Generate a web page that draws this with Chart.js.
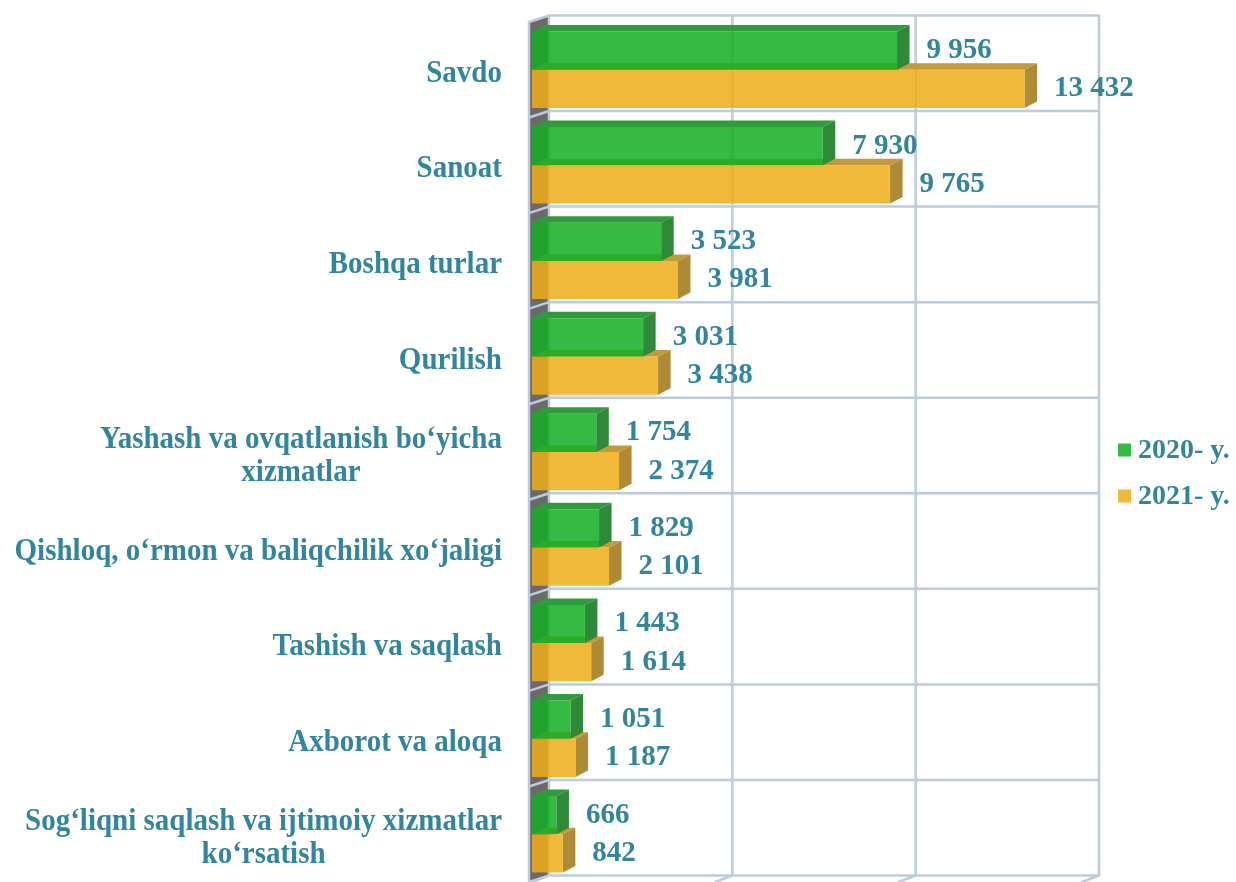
<!DOCTYPE html>
<html><head><meta charset="utf-8">
<script src="https://cdn.jsdelivr.net/npm/chart.js@4/dist/chart.umd.min.js"></script>
<style>html,body{margin:0;padding:0;background:#fff;overflow:hidden}canvas{display:block}</style>
</head><body>
<canvas id="c" width="1236" height="882"></canvas>
<script>
const categories = [
  "Savdo", "Sanoat", "Boshqa turlar", "Qurilish",
  ["Yashash va ovqatlanish bo‘yicha", "xizmatlar"],
  "Qishloq, o‘rmon va baliqchilik xo‘jaligi",
  "Tashish va saqlash", "Axborot va aloqa",
  ["Sog‘liqni saqlash va ijtimoiy xizmatlar", "ko‘rsatish"]
];
const values2020 = [9956, 7930, 3523, 3031, 1754, 1829, 1443, 1051, 666];
const values2021 = [13432, 9765, 3981, 3438, 2374, 2101, 1614, 1187, 842];
const seriesNames = ["2020- y.", "2021- y."];
const xTicks = [0, 5000, 10000, 15000];

const TEAL = '#31859C';
const FRONT = ['rgba(18,175,34,0.85)', 'rgba(238,173,24,0.85)'];
const TOPC = ['#2F9B3C', '#C39A3A'];
const SIDEC = ['#2E8A39', '#AF8A36'];
const LEGC = ['#35BA45', '#F1B93B'];
const WDX = 17, WDY = -6.5, BDX = 12.5, BDY = -6.5;
const FONT = '"Liberation Serif", "Times New Roman", serif';

function fmt(v) { return String(v).replace(/\B(?=(\d{3})+(?!\d))/g, ' '); }

function poly(ctx, pts, fill) {
  ctx.beginPath();
  ctx.moveTo(pts[0][0], pts[0][1]);
  for (let i = 1; i < pts.length; i++) ctx.lineTo(pts[i][0], pts[i][1]);
  ctx.closePath();
  ctx.fillStyle = fill;
  ctx.fill();
}

const threeD = {
  id: 'threeD',
  beforeDatasetsDraw(chart) {
    const ctx = chart.ctx, a = chart.chartArea, xs = chart.scales.x, ys = chart.scales.y;
    const n = categories.length;
    const x0 = xs.getPixelForValue(xTicks[0]);
    const fl = x0 - 3, bl = x0 + WDX, br = xs.getPixelForValue(xTicks[xTicks.length - 1]) + WDX;
    ctx.save();
    // left side wall
    poly(ctx, [[fl, a.top], [bl, a.top + WDY], [bl, a.bottom + WDY], [fl, a.bottom]], '#6A6A6A');
    ctx.strokeStyle = '#BDCBDD';
    ctx.lineWidth = 2.5;
    ctx.lineCap = 'round';
    ctx.beginPath();
    // vertical gridlines on back wall
    xTicks.forEach(t => {
      const x = xs.getPixelForValue(t) + WDX;
      ctx.moveTo(x, a.top + WDY); ctx.lineTo(x, a.bottom + WDY);
      // floor ticks
      ctx.moveTo(xs.getPixelForValue(t), a.bottom); ctx.lineTo(x, a.bottom + WDY);
    });
    // category separators
    for (let k = 0; k <= n; k++) {
      const yf = ys.getPixelForValue(k - 0.5);
      ctx.moveTo(fl, yf); ctx.lineTo(bl, yf + WDY); ctx.lineTo(br, yf + WDY);
    }
    // front edge of side wall
    ctx.moveTo(fl, a.top); ctx.lineTo(fl, a.bottom);
    ctx.stroke();
    // 3D parts of bars
    [1, 0].forEach(d => {
      const meta = chart.getDatasetMeta(d);
      meta.data.forEach(el => {
        const p = el.getProps(['x', 'y', 'base', 'height'], true);
        const top = p.y - p.height / 2, bot = p.y + p.height / 2;
        poly(ctx, [[p.base, top], [p.x, top], [p.x + BDX, top + BDY], [p.base + BDX, top + BDY]], TOPC[d]);
        poly(ctx, [[p.x, top], [p.x + BDX, top + BDY], [p.x + BDX, bot + BDY], [p.x, bot]], SIDEC[d]);
      });
    });
    ctx.restore();
  },
  afterDatasetsDraw(chart) {
    const ctx = chart.ctx, a = chart.chartArea, ys = chart.scales.y;
    ctx.save();
    ctx.fillStyle = TEAL;
    // data labels
    ctx.font = 'bold 29px ' + FONT;
    ctx.textBaseline = 'middle';
    ctx.textAlign = 'left';
    [0, 1].forEach(d => {
      const meta = chart.getDatasetMeta(d);
      const vals = chart.data.datasets[d].data;
      meta.data.forEach((el, i) => {
        const p = el.getProps(['x', 'y'], true);
        ctx.fillText(fmt(vals[i]), p.x + BDX + 17, p.y);
      });
    });
    // category labels (slightly tall glyphs as in the original)
    ctx.font = 'bold 29px ' + FONT;
    const right = a.left - 30, lh = 33, sy = 1.08;
    categories.forEach((lab, i) => {
      const lines = Array.isArray(lab) ? lab : [lab];
      const w = Math.max(...lines.map(l => ctx.measureText(l).width));
      const cx = right - w / 2;
      const yc = ys.getPixelForValue(i) + 4;
      ctx.textAlign = 'center';
      lines.forEach((l, j) => {
        const y = yc + (j - (lines.length - 1) / 2) * lh;
        ctx.save();
        ctx.translate(cx, y);
        ctx.scale(1, sy);
        ctx.fillText(l, 0, 0);
        ctx.restore();
      });
    });
    // legend
    ctx.font = 'bold 28px ' + FONT;
    ctx.textAlign = 'left';
    const lx = a.right + 36, cy = (a.top + a.bottom) / 2;
    seriesNames.forEach((s, i) => {
      const y = cy - 2 + i * 46;
      ctx.fillStyle = LEGC[i];
      ctx.fillRect(lx, y - 6.5, 13, 13);
      ctx.fillStyle = TEAL;
      ctx.fillText(s, lx + 20, y + 1);
    });
    ctx.restore();
  }
};

new Chart(document.getElementById('c'), {
  type: 'bar',
  data: {
    labels: categories,
    datasets: [
      { label: seriesNames[0], data: values2020, backgroundColor: FRONT[0], borderWidth: 0 },
      { label: seriesNames[1], data: values2021, backgroundColor: FRONT[1], borderWidth: 0 }
    ]
  },
  options: {
    indexAxis: 'y',
    responsive: false,
    animation: false,
    devicePixelRatio: 1,
    categoryPercentage: 0.8,
    barPercentage: 1.0,
    layout: { padding: { left: 532, right: 154, top: 22, bottom: 0 } },
    scales: {
      x: { display: false, min: xTicks[0], max: xTicks[xTicks.length - 1], ticks: { stepSize: 5000 } },
      y: { display: false }
    },
    plugins: { legend: { display: false }, tooltip: { enabled: false } }
  },
  plugins: [threeD]
});
</script>
</body></html>
